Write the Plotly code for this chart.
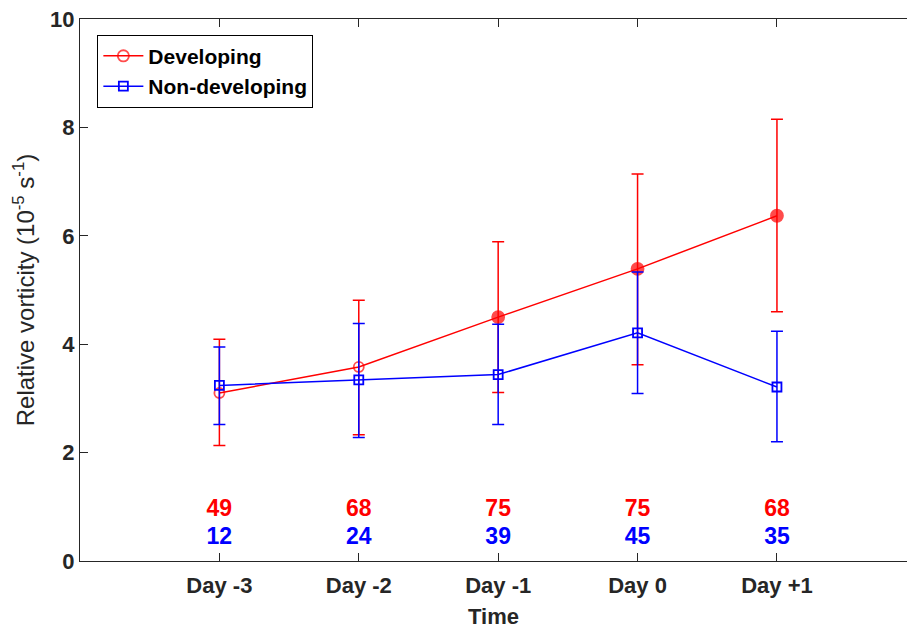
import plotly.graph_objects as go

# Composite relative vorticity by day relative to genesis
days = ["Day -3", "Day -2", "Day -1", "Day 0", "Day +1"]
x_pos = [1, 2, 3, 4, 5]

dev_mean = [3.10, 3.58, 4.50, 5.39, 6.37]
dev_upper = [4.09, 4.81, 5.89, 7.14, 8.15]
dev_lower = [2.13, 2.33, 3.11, 3.62, 4.60]
dev_significant = [False, False, True, True, True]
dev_count = [49, 68, 75, 75, 68]

non_mean = [3.24, 3.34, 3.44, 4.21, 3.21]
non_upper = [3.95, 4.38, 4.37, 5.33, 4.24]
non_lower = [2.52, 2.28, 2.52, 3.09, 2.20]
non_count = [12, 24, 39, 45, 35]

RED = "#ff0000"
BLUE = "#0000ff"
AXIS = "#262626"
FONT = "Liberation Sans, Arial, Helvetica, sans-serif"

fig = go.Figure()

fig.add_trace(go.Scatter(
    x=x_pos, y=dev_mean, mode="lines+markers", name="Developing",
    line=dict(color=RED, width=1.5),
    marker=dict(
        symbol=["circle" if s else "circle-open" for s in dev_significant],
        size=[12 if s else 10 for s in dev_significant],
        color=RED, line=dict(color=RED, width=1.8)),
    error_y=dict(
        type="data", symmetric=False,
        array=[u - m for u, m in zip(dev_upper, dev_mean)],
        arrayminus=[m - l for m, l in zip(dev_mean, dev_lower)],
        color=RED, thickness=1.5, width=6),
))

fig.add_trace(go.Scatter(
    x=x_pos, y=non_mean, mode="lines+markers", name="Non-developing",
    line=dict(color=BLUE, width=1.5),
    marker=dict(symbol="square-open", size=9, color=BLUE,
                line=dict(color=BLUE, width=1.8)),
    error_y=dict(
        type="data", symmetric=False,
        array=[u - m for u, m in zip(non_upper, non_mean)],
        arrayminus=[m - l for m, l in zip(non_mean, non_lower)],
        color=BLUE, thickness=1.5, width=6),
))

# Sample sizes printed above the time axis
fig.add_trace(go.Scatter(
    x=x_pos, y=[0.93] * len(x_pos), mode="text",
    text=[str(n) for n in dev_count], showlegend=False, hoverinfo="skip",
    textfont=dict(color=RED, size=23, family=FONT, weight="bold"),
))
fig.add_trace(go.Scatter(
    x=x_pos, y=[0.42] * len(x_pos), mode="text",
    text=[str(n) for n in non_count], showlegend=False, hoverinfo="skip",
    textfont=dict(color=BLUE, size=23, family=FONT, weight="bold"),
))

fig.update_layout(
    width=908, height=631,
    margin=dict(l=80, r=1, t=19, b=70),
    paper_bgcolor="white", plot_bgcolor="white",
    font=dict(family=FONT, color=AXIS),
    showlegend=True,
    legend=dict(
        x=0.021, y=0.971, xanchor="left", yanchor="top",
        bgcolor="white", bordercolor="#000000", borderwidth=1,
        font=dict(size=21, color="#000000", family=FONT, weight="bold"),
        tracegroupgap=0, itemwidth=40,
    ),
    xaxis=dict(
        range=[0, 5.933], tickmode="array", tickvals=x_pos, ticktext=days,
        showgrid=False, zeroline=False, automargin=False,
        showline=True, linecolor=AXIS, linewidth=1.2, mirror="ticks",
        ticks="inside", ticklen=8, tickcolor=AXIS, tickwidth=1.2,
        ticklabelstandoff=4,
        tickfont=dict(size=22, family=FONT, weight="bold", color=AXIS),
        title=dict(text="Time", standoff=12,
                   font=dict(size=22, family=FONT, weight="bold", color=AXIS)),
    ),
    yaxis=dict(
        range=[0, 10], tickvals=[0, 2, 4, 6, 8, 10],
        showgrid=False, zeroline=False, automargin=False,
        showline=True, linecolor=AXIS, linewidth=1.2,
        ticks="inside", ticklen=8, tickcolor=AXIS, tickwidth=1.2,
        tickfont=dict(size=22, family=FONT, weight="bold", color=AXIS),
        title=dict(text="Relative vorticity (10<sup>-5</sup> s<sup>-1</sup>)",
                   standoff=8,
                   font=dict(size=24, family=FONT, color=AXIS)),
    ),
)

fig.write_html("out.html")
